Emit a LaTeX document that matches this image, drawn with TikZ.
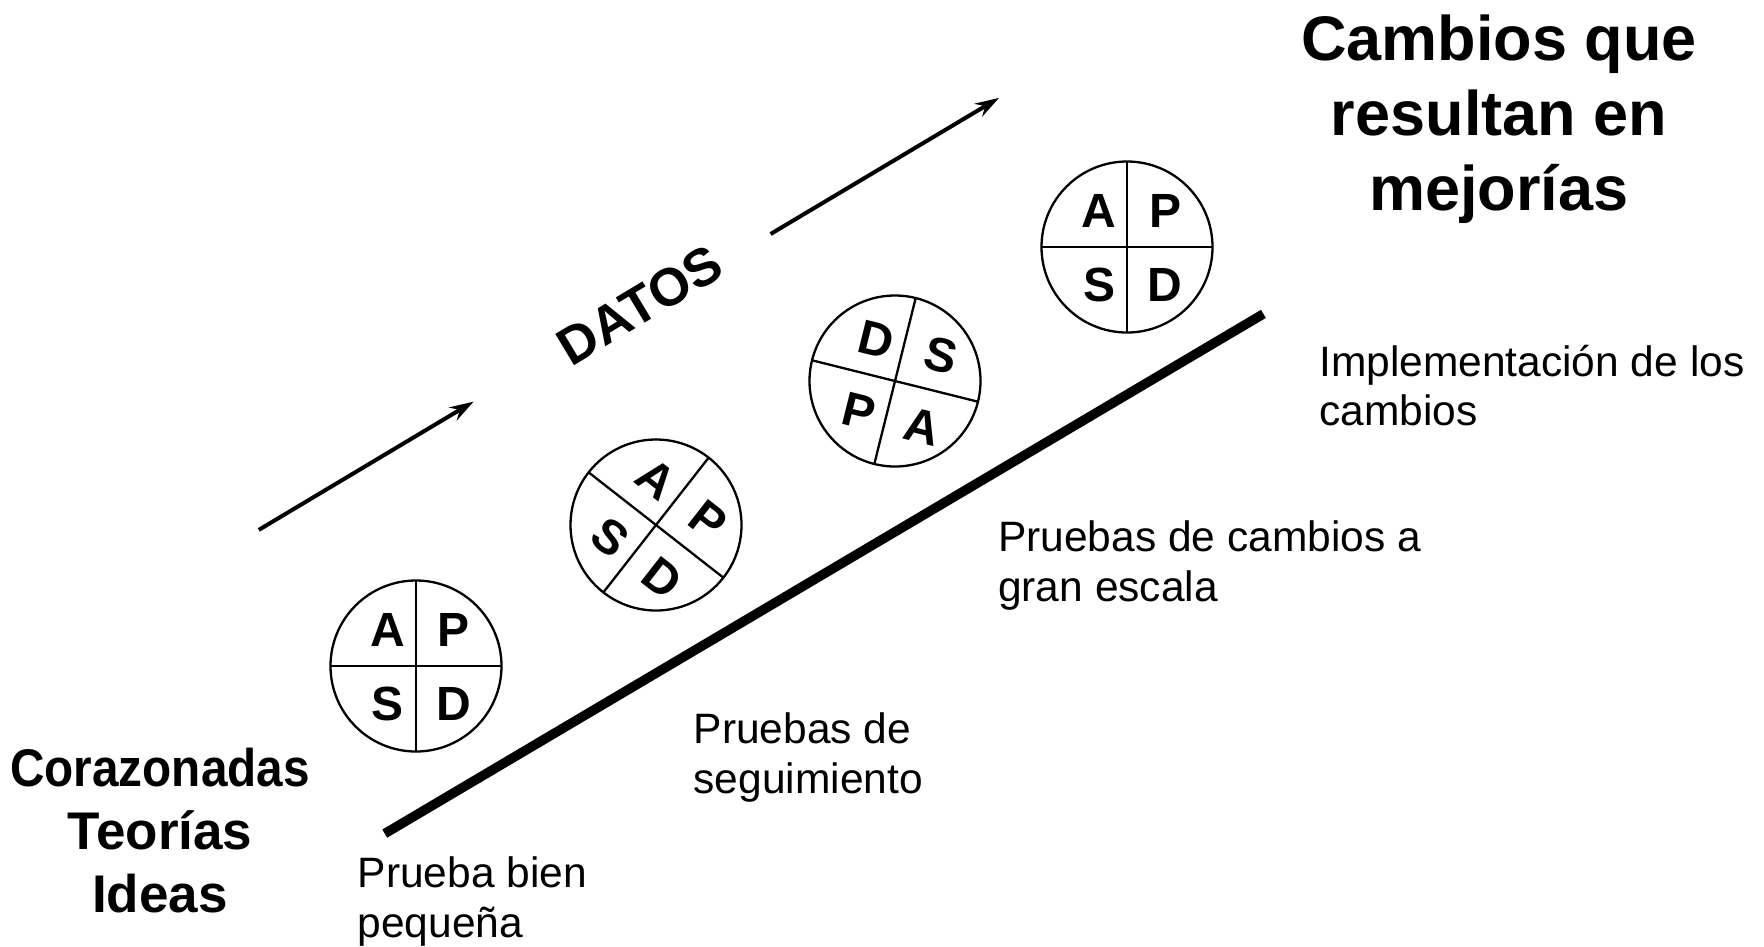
\documentclass[tikz,border=0pt]{standalone}
\usepackage{fontspec}
\setmainfont{Liberation Sans}
\usetikzlibrary{arrows.meta}
\tikzset{
  pdsaring/.style={circle, draw, line width=2.3pt, minimum size=171pt, inner sep=0pt},
  pdsacross/.style={line width=2.3pt},
  pdsaletter/.style={font=\fontsize{48}{50}\selectfont\bfseries, inner sep=0pt, transform shape},
  flowarrow/.style={line width=4pt, -{Stealth[length=24pt, width=15pt, inset=8pt]}},
  ramp/.style={line width=9.5pt},
  bigtitle/.style={font=\fontsize{63}{75}\selectfont\bfseries, inner sep=0pt, anchor=base},
  lefttitle/.style={font=\fontsize{53}{63}\selectfont\bfseries, inner sep=0pt, anchor=base},
  stagelabel/.style={font=\fontsize{42.5}{50}\selectfont, inner sep=0pt, anchor=base west},
  datoslabel/.style={font=\fontsize{53}{55}\selectfont\bfseries, inner sep=0pt, rotate=31}
}
\newcommand{\pdsawheel}[8]{%
  \begin{scope}[shift={(#2,#3)}, rotate=#4]
    \node[pdsaring] (#1) at (0,0) {};
    \draw[pdsacross] (90:85.5) -- (270:85.5);
    \draw[pdsacross] (0:85.5) -- (180:85.5);
    \node[pdsaletter] (#1tl) at (-28,36) {#5};
    \node[pdsaletter] (#1tr) at (38,36) {#6};
    \node[pdsaletter] (#1bl) at (-28,-38) {#7};
    \node[pdsaletter] (#1br) at (38,-38) {#8};
  \end{scope}}
\begin{document}
\begin{tikzpicture}[x=1pt, y=1pt]
  \useasboundingbox (0,0) rectangle (1764,-946);
  \fill[white] (0,0) rectangle (1764,-946);

  % ramp
  \coordinate (r1) at (384.75,-833.6);
  \coordinate (r2) at (1263.4,-313.9);
  \draw[ramp] (r1) -- (r2);

  % arrows
  \coordinate (a1s) at (258.75,-529.9);
  \coordinate (a1e) at (473.6,-401.6);
  \coordinate (a2s) at (770.6,-234);
  \coordinate (a2e) at (999,-97.9);
  \draw[flowarrow] (a1s) -- (a1e);
  \draw[flowarrow] (a2s) -- (a2e);

  \node[datoslabel] (datos) at (640,-305) {DATOS};

  % PDSA wheels
  \pdsawheel{ca}{416}{-666}{0}{A}{P}{S}{D}
  \pdsawheel{cb}{656}{-525}{-38}{A}{P}{S}{D}
  \pdsawheel{cc}{895}{-381}{-14}{D}{S}{P}{A}
  \pdsawheel{cd}{1127}{-247}{0}{A}{P}{S}{D}

  % titles
  \node[bigtitle] (t1) at (1499,-60) {Cambios que};
  \node[bigtitle] (t2) at (1499,-135) {resultan en};
  \node[bigtitle] (t3) at (1499,-210) {mejorías};

  \node[lefttitle] (l1) at (160,-786) {\scalebox{0.9}[1]{Corazonadas}};
  \node[lefttitle] (l2) at (160,-849) {Teorías};
  \node[lefttitle] (l3) at (160,-912) {Ideas};

  % stage labels
  \node[stagelabel] (s1a) at (357.5,-887) {Prueba bien};
  \node[stagelabel] (s1b) at (357.5,-937) {pequeña};
  \node[stagelabel] (s2a) at (693.5,-743) {Pruebas de};
  \node[stagelabel] (s2b) at (693.5,-793) {seguimiento};
  \node[stagelabel] (s3a) at (998,-551) {Pruebas de cambios a};
  \node[stagelabel] (s3b) at (998,-601) {gran escala};
  \node[stagelabel] (s4a) at (1319,-376) {Implementación de los};
  \node[stagelabel] (s4b) at (1319,-425) {cambios};
\end{tikzpicture}
\end{document}
